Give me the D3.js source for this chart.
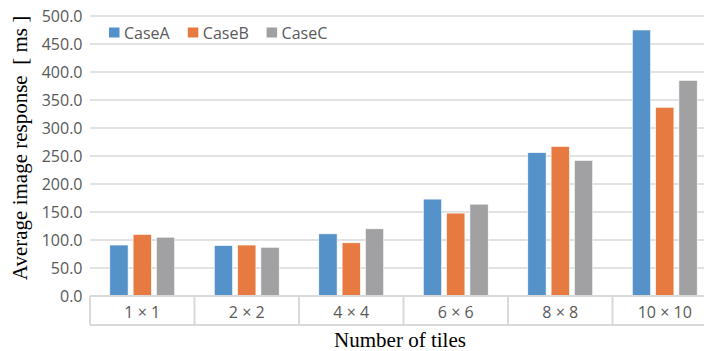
<!DOCTYPE html>
<html>
<head>
<meta charset="utf-8">
<script src="https://cdn.jsdelivr.net/npm/d3@7"></script>
<style>
  html, body { margin: 0; padding: 0; background: #fff; overflow: hidden; }
  svg { display: block; }
</style>
</head>
<body>
<svg id="chart" width="704" height="351"></svg>
<script>
const categories = ["1 × 1", "2 × 2", "4 × 4", "6 × 6", "8 × 8", "10 × 10"];
const seriesNames = ["CaseA", "CaseB", "CaseC"];
const caseA = [91, 90, 111, 173, 256, 475];
const caseB = [110, 91, 95, 148, 267, 337];
const caseC = [105, 87, 120, 164, 242, 385];
const yTicks = [0, 50, 100, 150, 200, 250, 300, 350, 400, 450, 500];
const colors = ["#5592C9", "#E67A41", "#A1A1A4"];
const seriesValues = [caseA, caseB, caseC];

(function () {
const svg = d3.select("#chart");
const mLeft = 90, mRight = 717, mTop = 16, mBottom = 296, boxBottom = 325;

const x = d3.scaleBand().domain(categories).range([mLeft, mRight]).paddingInner(0).paddingOuter(0);
const groupW = 64.9;
const xs = d3.scaleBand().domain(seriesNames).range([0, groupW]).paddingInner(0.215).paddingOuter(0);
const y = d3.scaleLinear().domain([0, 500]).range([mBottom, mTop]);

const grid = "#D9D9D9";
const tickColor = "#595959";
const sans = "'Open Sans', 'Noto Sans', sans-serif";

// gridlines
svg.append("g").selectAll("line").data(yTicks.filter(d => d > 0)).join("line")
  .attr("x1", mLeft).attr("x2", 704)
  .attr("y1", d => y(d)).attr("y2", d => y(d))
  .attr("stroke", grid).attr("stroke-width", 1.6);

// y tick labels
svg.append("g").selectAll("text").data(yTicks).join("text")
  .attr("x", 82.5).attr("y", d => y(d))
  .attr("text-anchor", "end").attr("dominant-baseline", "central")
  .attr("font-family", sans).attr("font-size", 16).attr("fill", tickColor)
  .text(d => d.toFixed(1));

// bars
const rows = [];
categories.forEach((c, i) => seriesNames.forEach((s, j) => rows.push({c, s, v: seriesValues[j][i], j})));
svg.append("g").selectAll("rect").data(rows).join("rect")
  .attr("x", d => x(d.c) + x.bandwidth() / 2 - groupW / 2 + xs(d.s))
  .attr("width", xs.bandwidth())
  .attr("y", d => y(d.v))
  .attr("height", d => y(0) - y(d.v))
  .attr("fill", d => colors[d.j])
  .attr("stroke", "#fff").attr("stroke-width", 0.6);

// category axis box
const ax = svg.append("g");
ax.append("line").attr("x1", mLeft).attr("x2", 704).attr("y1", mBottom).attr("y2", mBottom)
  .attr("stroke", grid).attr("stroke-width", 2);
ax.append("line").attr("x1", mLeft).attr("x2", 704).attr("y1", boxBottom).attr("y2", boxBottom)
  .attr("stroke", grid).attr("stroke-width", 2);
ax.selectAll("line.sep").data(categories.concat(["end"])).join("line").attr("class", "sep")
  .attr("x1", (d, i) => i < categories.length ? x(d) : mRight)
  .attr("x2", (d, i) => i < categories.length ? x(d) : mRight)
  .attr("y1", mBottom).attr("y2", boxBottom)
  .attr("stroke", grid).attr("stroke-width", 2);
ax.selectAll("text").data(categories).join("text")
  .attr("x", d => x(d) + x.bandwidth() / 2).attr("y", (mBottom + boxBottom) / 2 + 1)
  .attr("text-anchor", "middle").attr("dominant-baseline", "central")
  .attr("font-family", sans).attr("font-size", 16).attr("fill", tickColor)
  .text(d => d);

// legend
const legend = svg.append("g");
const lg = legend.selectAll("g").data(seriesNames).join("g")
  .attr("transform", (d, i) => `translate(${109 + i * 78.8},0)`);
lg.append("rect").attr("x", 0).attr("y", 27.5).attr("width", 10.5).attr("height", 10)
  .attr("fill", (d, i) => colors[i]);
lg.append("text").attr("x", 15).attr("y", 32.5).attr("dominant-baseline", "central")
  .attr("font-family", sans).attr("font-size", 16).attr("fill", tickColor)
  .text(d => d);

// axis titles
const serif = "'Liberation Serif', 'Times New Roman', serif";
svg.append("text").attr("x", 400).attr("y", 347)
  .attr("text-anchor", "middle").attr("font-family", serif).attr("font-size", 21).attr("fill", "#000")
  .text("Number of tiles");
svg.append("text").attr("transform", "translate(27,148) rotate(-90)")
  .attr("text-anchor", "middle").attr("font-family", serif).attr("font-size", 21).attr("fill", "#000")
  .style("white-space", "pre")
  .text("Average image response  [ ms ]");
})();
</script>
</body>
</html>
